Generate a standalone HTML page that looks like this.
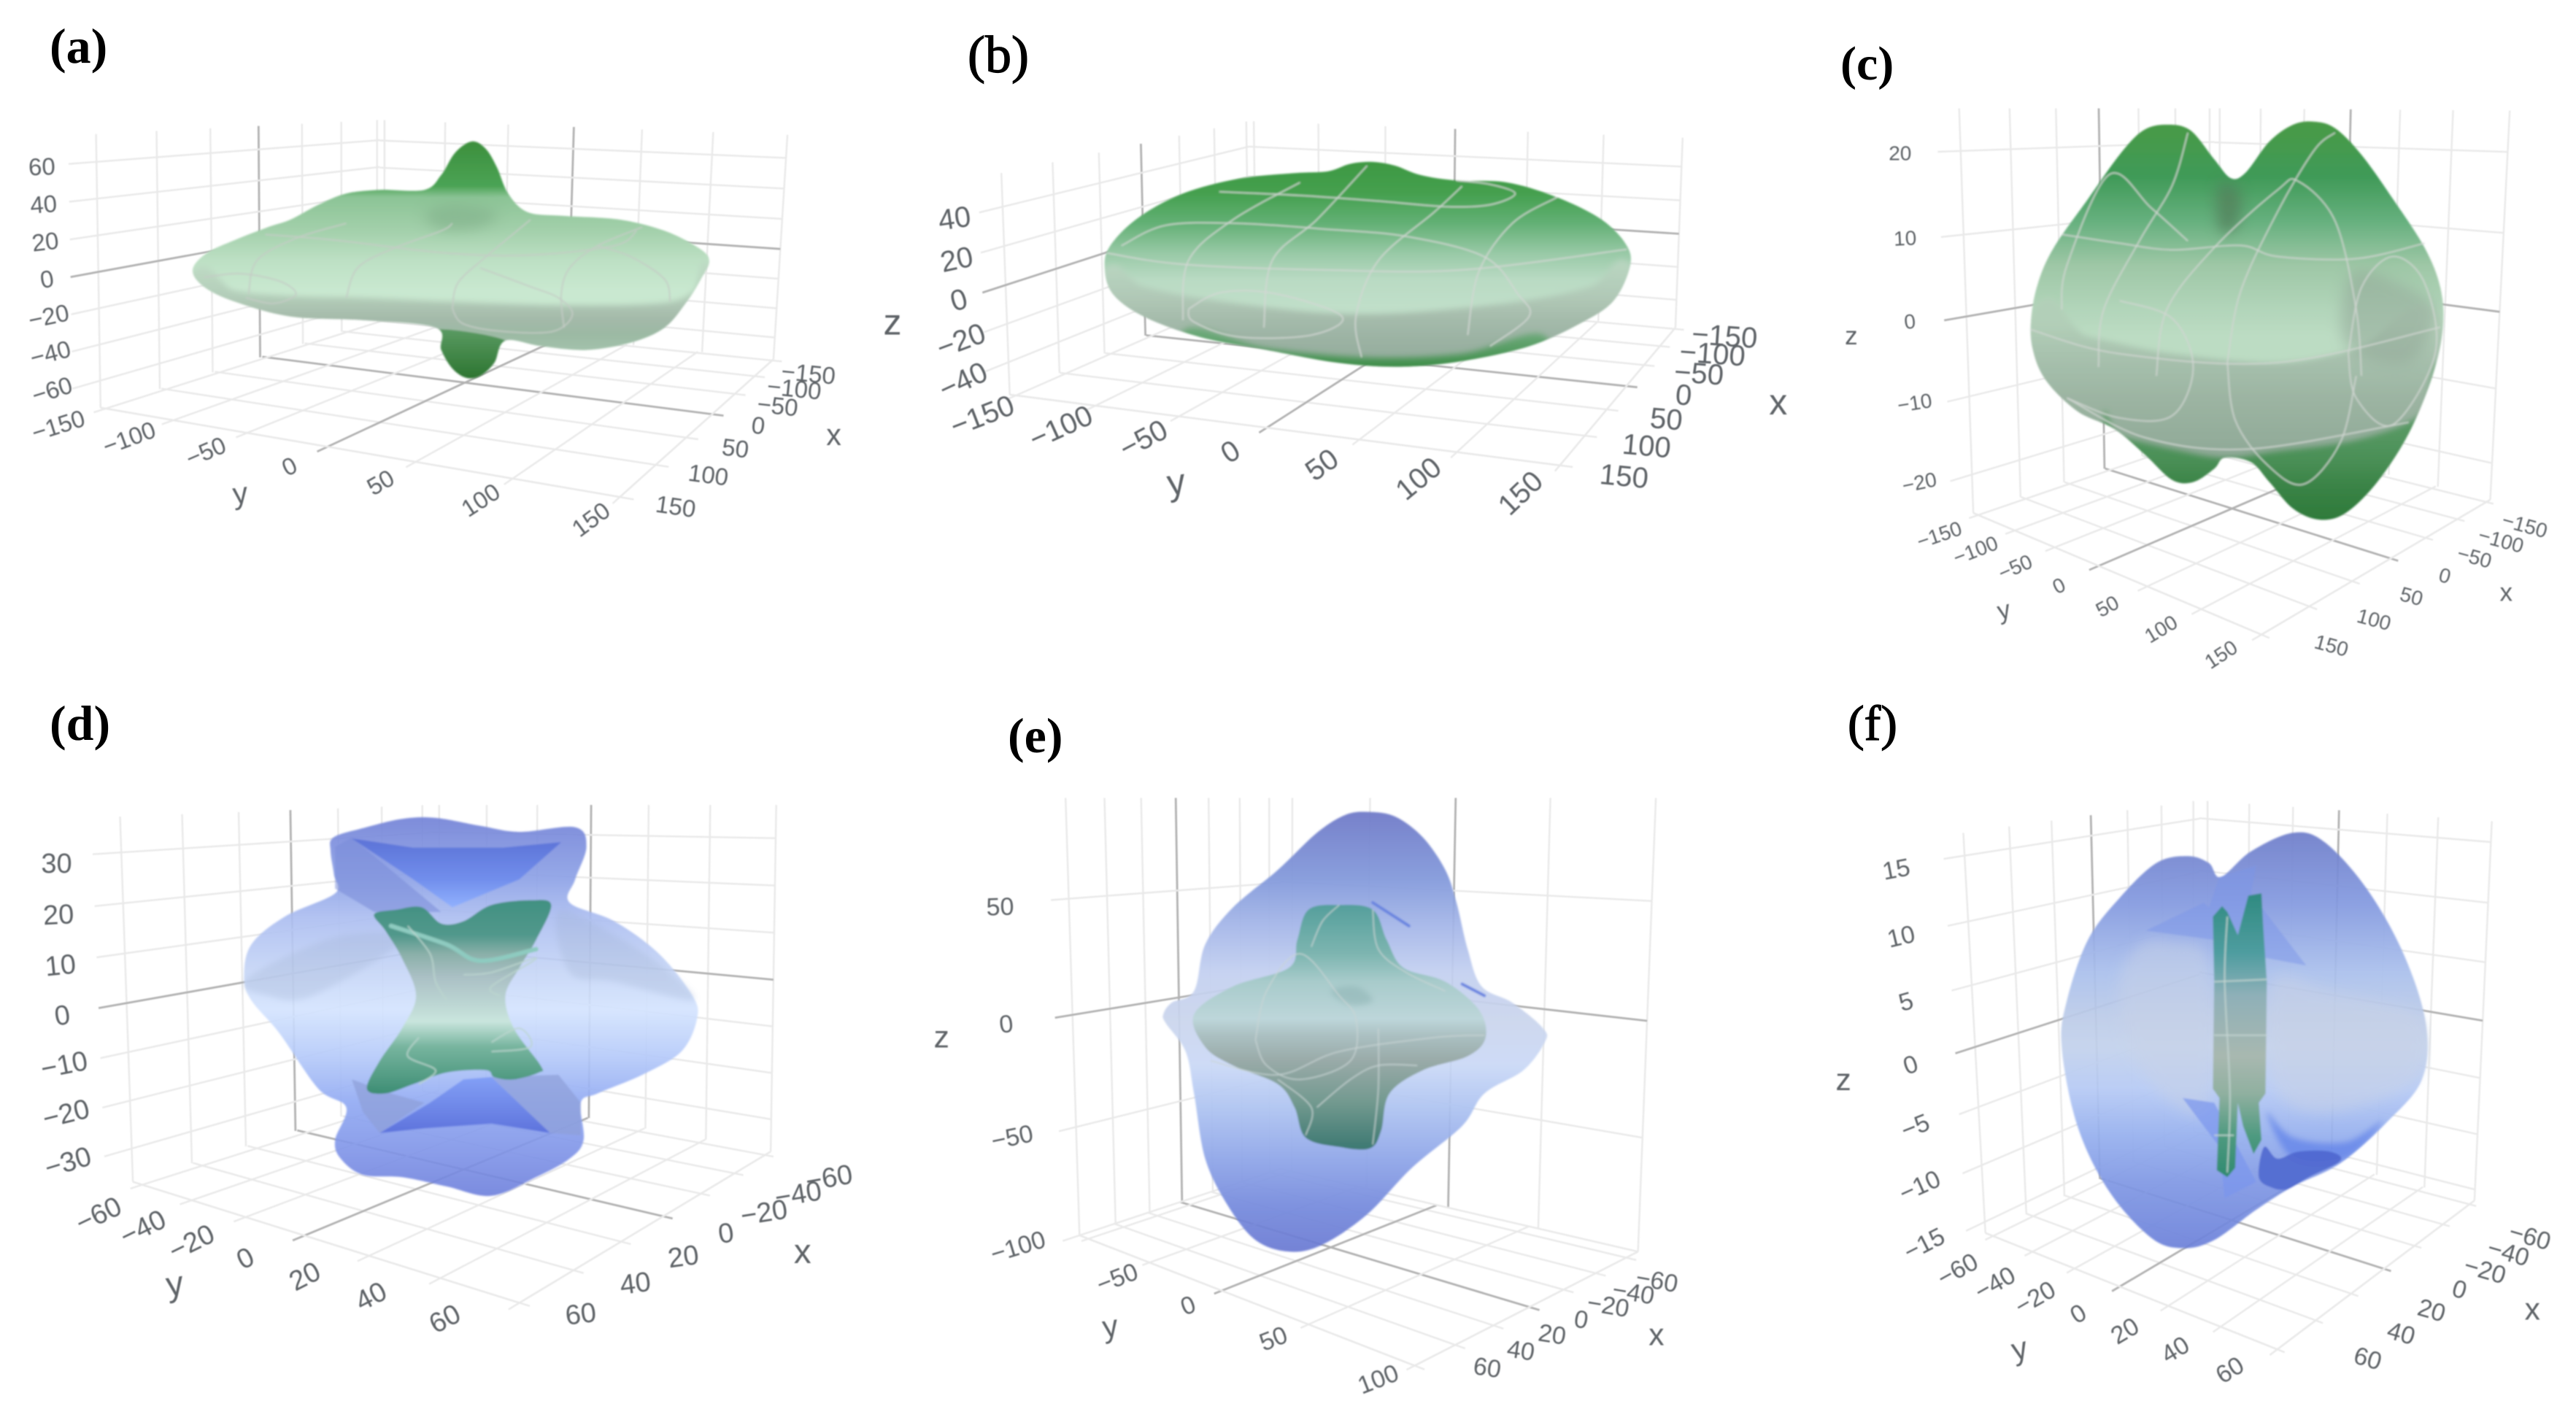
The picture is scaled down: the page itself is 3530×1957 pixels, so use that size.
<!DOCTYPE html>
<html lang="en">
<head>
<meta charset="utf-8">
<title>Six 3D surface panels</title>
<style>
html,body{margin:0;padding:0;background:#fff;}
svg{display:block;}
.panel-title{font-family:"Liberation Serif",serif;fill:#000;}
.tick{font-family:"Liberation Sans",sans-serif;fill:#5f6468;}
</style>
</head>
<body>
<svg id="figure" xmlns="http://www.w3.org/2000/svg" width="3530" height="1957" viewBox="0 0 3530 1957">
<defs>
<filter id="b1" x="-5%" y="-5%" width="110%" height="110%"><feGaussianBlur stdDeviation="1.4"/></filter>
<filter id="b2" x="-5%" y="-5%" width="110%" height="110%"><feGaussianBlur stdDeviation="0.9"/></filter>
<filter id="b4" x="-30%" y="-30%" width="160%" height="160%"><feGaussianBlur stdDeviation="4"/></filter>
<filter id="b8" x="-50%" y="-50%" width="200%" height="200%"><feGaussianBlur stdDeviation="9"/></filter>
</defs>
<rect width="3530" height="1957" fill="#ffffff"/>
<text class="panel-title" x="68" y="86" font-size="68" font-weight="700">(a)</text>
<text class="panel-title" x="1326" y="99" font-size="72" stroke="#000" stroke-width="1.3">(b)</text>
<text class="panel-title" x="2522" y="109" font-size="66" font-weight="700">(c)</text>
<text class="panel-title" x="68" y="1014" font-size="68" font-weight="700">(d)</text>
<text class="panel-title" x="1381" y="1031" font-size="68" font-weight="700">(e)</text>
<text class="panel-title" x="2532" y="1014" font-size="68" stroke="#000" stroke-width="1.3">(f)</text>
<g id="g-a"></g>
<g id="g-b"></g>
<g id="g-c"></g>
<g id="g-d"></g>
<g id="g-e"></g>
<g id="g-f"></g>
</svg>
<script>
// ---- axis tick values ----
const ticks150 = [-150,-100,-50,0,50,100,150];
const ticks60 = [-60,-40,-20,0,20,40,60];
const ticks100 = [-100,-50,0,50,100];
const zTicksA = [-60,-40,-20,0,20,40,60];
const zTicksB = [-40,-20,0,20,40];
const zTicksC = [-20,-10,0,10,20];
const zTicksD = [-30,-20,-10,0,10,20,30];
const zTicksE = [-100,-50,0,50];
const zTicksF = [-15,-10,-5,0,5,10,15];

// ---- surface silhouettes as [horizontal extent, z] value pairs ----
const outlineA = [[-91,3],[-86,12],[-76,19],[-64,26],[-56,30],[-46,38],[-36,44],[-24,46],[-8,46],[-2,54],[3,66],[9,72],[14,68],[18,58],[22,44],[29,34],[42,32],[62,30],[78,24],[90,15],[94,8],[91,-2],[86,-14],[78,-28],[66,-36],[50,-40],[34,-38],[21,-35],[17,-47],[12,-54],[7,-55],[2,-50],[-2,-40],[-4,-28],[-30,-24],[-56,-22],[-76,-14],[-87,-6]];
const lowerA = [[-92,1],[-76,-8],[-56,-11],[-30,-12],[0,-14],[40,-16],[76,-15],[88,-9],[95,4],[120,-80],[-120,-80]];
const spikeLowerA = [[-4,-29],[21,-35],[17,-47],[12,-54],[7,-55],[2,-50],[-2,-40]];
const shadeA = [[-8,33],[2,38],[18,34],[12,26],[-2,25]];
const wiresA = [
 [[-65,22],[-40,19],[0,12],[30,11],[60,16],[68,24]],
 [[-87,-1],[-74,1],[-60,-3],[-54,-10],[-62,-15],[-72,-12]],
 [[-71,-10],[-68,8],[-54,20],[-36,28]],
 [[-36,-12],[-32,4],[-20,14],[-2,24],[2,28]],
 [[2,-18],[4,-4],[14,10],[30,30]],
 [[12,4],[30,-6],[40,-12],[45,-21],[38,-30],[20,-30],[6,-26],[2,-18]],
 [[42,-28],[41,-10],[44,4],[54,16],[70,26]],
 [[54,16],[66,10],[78,-2],[80,-14]]
];

const outlineB = [[-94,-4],[-92,8],[-82,23],[-66,36],[-46,44],[-26,47],[-14,48],[-6,52],[2,53],[10,51],[19,46],[32,43],[50,42],[68,34],[84,22],[93,8],[94,-4],[88,-22],[76,-34],[58,-46],[34,-54],[12,-57],[-10,-55],[-36,-48],[-60,-41],[-80,-30],[-91,-18]];
const lowerB = [[-95,-6],[-80,-14],[-56,-21],[-16,-28],[14,-28],[54,-22],[80,-14],[95,-3],[120,-80],[-120,-80]];
const rimB = [[-66,-38],[-36,-47],[0,-52],[34,-50],[64,-41],[60,-90],[-60,-90]];
const wiresB = [
 [[-53,37],[-24,35],[4,32],[28,29],[44,30],[53,36],[44,41],[32,43]],
 [[-88,8],[-72,19],[-46,20],[-16,17],[14,13],[42,2],[54,-18],[58,-30],[44,-46]],
 [[-93,4],[-66,-2],[-16,-5],[34,-5],[93,6]],
 [[-64,-26],[-52,-17],[-32,-18],[-9,-30],[-20,-40],[-46,-41],[-62,-33],[-64,-26]],
 [[-66,-32],[-64,0],[-48,22],[-24,42]],
 [[-37,-36],[-34,0],[-18,22],[0,51]],
 [[-2,-52],[-4,-30],[4,0],[24,26],[34,40]],
 [[36,-40],[40,-6],[52,20],[68,34]]
];

const outlineC = [[-19.4,0],[-18.75,4],[-17.25,8],[-14,13.5],[-11,18.5],[-8.75,21.25],[-6.5,21.9],[-4.25,21.25],[-2,18],[-0.4,15.85],[1,16.5],[3.25,20],[5.5,21.9],[7.5,22.25],[9.5,21.5],[12,18.5],[15,13.5],[18,8],[19.5,3.5],[19.75,-1],[18.75,-6.5],[16.5,-13],[13.5,-18.5],[10.5,-22],[8,-22.75],[5.5,-21.5],[3.25,-18.5],[1.5,-16.25],[-1,-15.75],[-2,-17],[-4,-18.5],[-6,-18.25],[-8.5,-15.5],[-11.5,-12.5],[-15,-10.5],[-18,-7],[-19.25,-3.5]];
const lowerC = [[-19.75,-0.25],[-14,-2],[-6,-4],[4,-5],[11.5,-3.5],[20,-0.75],[30,-40],[-30,-40]];
const lobesC = [[-12.5,-12.2],[-11,-13.25],[-6,-14.75],[-1,-15.75],[4,-15],[11.5,-13.75],[17.5,-11],[20.5,-6.5],[30,-40],[-11,-40]];
const shadeSideC = [[11,5],[15.5,4],[19,1],[16.5,-5],[10.5,-3]];
const shadeNotchC = [[-1.6,15],[0.4,14.5],[0.25,10.5],[-1.5,10]];
const wiresC = [
 [[-16.5,9.5],[-11,8.5],[-6,7.75],[0.5,8.25],[4,7],[11.5,6.75],[18,8.5]],
 [[-13,-5.5],[-12.5,1],[-9,9],[-6,15],[-4.5,21]],
 [[-16.5,1],[-16,6],[-12,16.25],[-8,12.5],[-4.5,8.75]],
 [[-7.5,-6.5],[-6.5,1],[-2,8],[4,14.5],[6,15.5],[9.5,11],[11.5,1],[12,-6.5]],
 [[-0.75,-5],[0.5,3],[4,12],[7.5,19],[9.5,21]],
 [[10.75,-4],[12,3.5],[15,7],[18,4],[19,-4],[15,-12],[11.5,-9],[10.75,-4]],
 [[-19.5,-1.25],[-11,-4],[4,-5],[19.5,-1]],
 [[-11,2],[-6,0],[-4,-5.5],[-6,-11],[-11,-11.25],[-16,-9]],
 [[-16,-9],[-8.5,-13.5],[1.5,-14.75],[16.5,-11.75]],
 [[-0.75,-5],[0,-11.5],[3,-16.5],[6.5,-18.75],[10,-14],[11.5,-6.5]]
];

const outerD = [[-40.3,8],[-39,15],[-33,21],[-24,26],[-24.2,30],[-24.8,35],[-24.3,38],[-19,40],[-12,42],[-6,42.2],[2,40.5],[9,39.2],[19,40.2],[21,36],[19,29],[18,24],[26,20],[34,13],[40,4],[40.8,-1],[38,-8],[31,-13],[23,-17],[20,-19],[20.5,-27],[18,-31],[12,-35],[4,-39],[-4,-37],[-12,-35],[-19,-34.5],[-23,-31],[-24,-27],[-22,-20],[-27,-16],[-34,-4],[-39,3]];
const sideRightD = [[16,22],[26,17],[36,9],[40,3],[26,7],[18,9]];
const sideLeftD = [[-40,7.5],[-24,16.5],[-12,16],[-28,4],[-36,4]];
const capTopD = [[-21,37.8],[-10,35.8],[6,35.8],[16.5,37],[9,29],[-3,23],[-10,29]];
const capTopSideD = [[-24,36],[-21,38],[-10,27],[-5,22],[-17,22],[-24,27]];
const capBottomD = [[-16,-25.5],[-8,-24.5],[4,-23.5],[14.5,-25.5],[4,-13.5],[-1,-14],[-7,-19]];
const capBottomLeftD = [[-21,-14],[-14,-17],[-8,-19],[-16,-25.5],[-19,-21]];
const capBottomRightD = [[4,-13.5],[16,-13],[20,-19],[20,-26],[14.5,-25.5]];
const innerD = [[-17,21.5],[-13,22.5],[-8.5,23],[-5,19.5],[-1,20],[4,23.5],[11,24.5],[14.7,23.5],[12,16],[9,10],[6.5,4],[8,-3],[12.8,-11],[12.5,-12.5],[8,-14],[4.5,-13.5],[3,-12],[-4,-12.5],[-10,-15],[-15,-17],[-18.3,-16],[-16,-10],[-12,-3],[-9.5,4],[-12,12],[-15,18]];
const bandD = [[-14,19],[-4,15],[2,11.5],[12,14]];
const wiresD = [
 [[-11,19],[-7,13],[-6,7],[-4,3]],
 [[-1,8.5],[4,9],[12,12],[4,6],[5.5,4]],
 [[-9,-5],[-11,-9],[-6,-12],[-9,-15]],
 [[4,-6],[9,-3],[11,-7],[4,-8]]
];

const outerE = [[-65,6],[-62,11],[-54,16],[-50,36],[-40,52],[-24,68],[-10,84],[0,91.6],[8,93],[18,91],[28,82],[36,68],[40,54],[44,34],[49,18],[60,11],[71,0],[71.6,-6],[64,-18],[50,-28],[42,-42],[24,-60],[8,-80],[-8,-93],[-20,-96],[-32,-91],[-42,-76],[-50,-56],[-54,-28],[-57,-10],[-64,2]];
const innerE = [[-54,6],[-40,18],[-20,26],[-17,38],[-13,51],[-2,53],[10,51],[15,38],[21,26],[36,20],[48,8],[50.4,-4],[44,-12],[28,-18],[16,-28],[13,-44],[9,-51.6],[-2,-51],[-14,-47],[-18,-34],[-24,-24],[-40,-16],[-50,-8]];
const dentE = [[-5,16],[4,18],[10,12],[2,10]];
const sliverE1 = [[10,54],[23,44]];
const sliverE2 = [[42,19],[50,14]];
const wiresE = [
 [[-32,-5],[-28,16],[-16,32],[-2,14],[4,4],[2,-14],[-16,-22],[-28,-16],[-32,-5]],
 [[-12,35],[-8,46],[-2,53]],
 [[10,51],[12,34],[22,24],[36,16]],
 [[-48,-14],[-24,-20],[-2,-10],[32,-4],[50,-3]],
 [[-14,-46],[-12,-34],[-24,-22]],
 [[-10,-34],[2,-22],[12,-16],[26,-16]],
 [[10,-50],[12,-26],[12,0]]
];

const outerF = [[-13.6,-0.4],[-13.2,3.6],[-11.6,8.8],[-9.2,12.4],[-6.4,15.4],[-4,16],[-2.4,15.4],[-1.5,14.2],[0.8,16.4],[4,18],[6.4,17.2],[9.6,13.2],[12.4,7.6],[14.1,1.6],[13.8,-3.2],[11.2,-6.8],[7.6,-10.4],[4,-12.4],[1.2,-14.4],[-2,-17],[-4.4,-17.7],[-6.8,-16.8],[-10,-12.8],[-12.4,-7.2]];
const bodyLeftF = [[-9.2,5.2],[-7.6,8.4],[-5.2,8.6],[-2.4,6.8],[-2.4,-5.2],[-5.2,-5.2],[-8.4,-0.4]];
const bodyRightF = [[2.4,5.2],[6.8,4.4],[13.6,2],[13.2,-3.2],[6.8,-6],[2.8,-4]];
const starTopF = [[-2.4,11.6],[-1.6,14.2],[1.2,15.2],[0.8,12.8],[5,6.6],[1.2,7.4],[-2,8.8],[-7.2,9.6],[-2.8,12]];
const bottomDarkF = [[1.4,-11.6],[2.4,-12.5],[3.6,-12.6],[5.2,-11.6],[7.6,-10.2],[6.8,-9.4],[4.4,-9.4],[2.8,-10],[1.8,-9]];
const bottomWashF = [[2,-6],[4,-8.2],[8,-8.6],[10.8,-6.8],[8,-10],[4,-10]];
const bottomMidF = [[-4.4,-4.8],[-2,-5.2],[1.2,-12],[-1.2,-13.4],[-1.6,-9]];
const innerF = [[-2.1,10.8],[-1.4,11.7],[-1,11.2],[-0.2,9.2],[0.6,12.6],[1.6,12.8],[1.7,10.4],[2,5.2],[1.9,-4.4],[1.4,-5.2],[1.6,-8.4],[1,-9.6],[0.2,-7.2],[-0.2,-5.2],[-0.4,-10.8],[-1,-11.6],[-1.8,-11],[-1.6,-4.8],[-2.1,-4],[-2,5.2]];
const wiresF = [
 [[-1,10.8],[-1.2,5.2],[-0.8,-4.4],[-1,-11.2]],
 [[-2,5.2],[2,5.4]],
 [[-2,0.6],[2,0.6]],
 [[-2,-8],[-0.5,-8]]
];

// ---- panel layout and styling ----
const panels = [
 {id:'a',ox:0,oy:0,sx:1.3067,sy:1.96,o:[800,740],f:5,font:33,wireW:2,
  xr:[-154,150],yr:[-154,150],zr:[-75,75],xt:ticks150,yt:ticks150,zt:zTicksA,hideY:[],
  Lb:[180,1095],F:[1110,1335],Rb:[1385,965],Bb:[680,859],Lt:[172,360],Bt:[680,322],Rt:[1410,362],
  zl:[[-86,25,-25],[-98,13,-3]],yl:[[-85,45,-25],[-52,60,-48]],xl:[[65,35,8],[100,25,12]],
  titles:[['y',430,1325,-10],['x',1493,1168,0]],
  outline:outlineA,outerGrad:[[380,'#3c8f3c'],[500,'#4ba355'],[530,'#8cc496'],[620,'#a3d0ab'],[700,'#bde0c4'],[780,'#c9e8d0'],[1020,'#c9e8d0']],outerOp:1,
  shapes:[
   {name:'surface-a-lower-body',data:lowerA,clip:1,blur:'b4',grad:[[730,'#bcd8c2'],[800,'#b2ccb8'],[860,'#a3b8a8'],[900,'#9bb9a3'],[940,'#a3c2ab']]},
   {name:'surface-a-lower-spike',data:spikeLowerA,clip:1,grad:[[885,'#5a9a62'],[1017,'#2c7530']]},
   {name:'surface-a-peak-shadow',data:shadeA,clip:1,blur:'b8',fill:'#7fae88',op:.6}
  ],wires:wiresA,wire:'#c4cbc6'},
 {id:'b',ox:1200,oy:0,sx:1.3067,sy:1.96,o:[880,700],f:5,font:40,wireW:2,
  xr:[-154,150],yr:[-154,150],zr:[-57,57],xt:ticks150,yt:ticks150,zt:zTicksB,hideY:[],
  Lb:[240,1060],F:[1225,1250],Rb:[1432,880],Bb:[672,778],Lt:[225,465],Bt:[668,325],Rt:[1445,370],
  zl:[[-81,50,-35],[-86,32,-12]],yl:[[-60,55,-30],[-70,75,-55]],xl:[[90,20,6],[115,30,8]],
  titles:[['z',30,865,0],['y',538,1295,-12],['x',1616,1080,0]],
  outline:outlineB,outerGrad:[[435,'#3e9842'],[520,'#45a04f'],[600,'#63b075'],[680,'#98c9a6'],[750,'#b9dac3'],[820,'#c0dfc9'],[1000,'#c0dfc9']],outerOp:1,
  shapes:[
   {name:'surface-b-lower-body',data:lowerB,clip:1,blur:'b4',grad:[[720,'#b8d4bf'],[800,'#b0c8b6'],[860,'#a4baaa'],[920,'#9ab1a2'],[985,'#93ab9b']]},
   {name:'surface-b-bottom-rim',data:rimB,clip:1,blur:'b4',grad:[[900,'#6aa877'],[985,'#3f8e4a']]}
  ],wires:wiresB,wire:'#d2d7d3'},
 {id:'c',ox:2400,oy:0,sx:1.3876,sy:1.65,o:[920,720],f:20,font:28,wireW:2,
  xr:[-157,150],yr:[-157,150],zr:[-25,25],xt:ticks150,yt:ticks150,zt:zTicksC,hideY:[],
  Lb:[422,1160],F:[970,1435],Rb:[1405,1130],Bb:[880,976],Lt:[395,245],Bt:[880,245],Rt:[1442,250],
  zl:[[-100,18,-14],[-115,5,0]],yl:[[-74,45,-22],[-77,45,-38]],xl:[[73,53,18],[133,25,18]],
  titles:[['z',190,760,0],['y',480,1380,-15],['x',1435,1340,0]],
  outline:outlineC,outerGrad:[[275,'#489a45'],[400,'#409a58'],[500,'#66b07e'],[600,'#9ec7a6'],[700,'#b2d5ba'],[760,'#bcdcc3'],[1180,'#bcdcc3']],outerOp:1,
  shapes:[
   {name:'surface-c-lower-body',data:lowerC,clip:1,blur:'b4',grad:[[730,'#b2cfb8'],[800,'#a8c2ae'],[900,'#9cb4a2'],[1040,'#8ea896']]},
   {name:'surface-c-lower-lobes',data:lobesC,clip:1,blur:'b4',grad:[[940,'#5c9c68'],[1040,'#4a8f56'],[1100,'#3a8346'],[1175,'#2e7a3a']]},
   {name:'surface-c-side-shade',data:shadeSideC,clip:1,blur:'b8',fill:'#93a898',op:.55},
   {name:'surface-c-notch-shade',data:shadeNotchC,clip:1,blur:'b8',fill:'#527f5c',op:.75}
  ],wires:wiresC,wire:'#d0d6d1'},
 {id:'d',ox:0,oy:950,sx:1.3067,sy:1.568,o:[840,690],f:10,font:38,wireW:2,
  xr:[-64,60],yr:[-64,60],zr:[-37,37],xt:ticks60,yt:ticks60,zt:zTicksD,hideY:[],
  Lb:[238,1050],F:[930,1310],Rb:[1380,985],Bb:[770,850],Lt:[215,265],Bt:[770,240],Rt:[1390,240],
  zl:[[-114,30,-20],[-116,25,0]],yl:[[-78,65,-30],[-133,35,-32]],xl:[[115,50,-12],[110,25,-8]],
  titles:[['y',313,1270,-10],['x',1437,1200,0]],
  outline:outerD,outerGrad:[[268,'#7080d6'],[400,'#8ba0e6'],[480,'#aabcf0'],[600,'#c5d5f6'],[680,'#d3e3fe'],[780,'#b4c9f9'],[880,'#8fa8f2'],[1000,'#7c90e6'],[1080,'#6d7fdb']],outerOp:.9,
  shapes:[
   {name:'surface-d-right-lobe-shade',data:sideRightD,blur:'b4',fill:'#9fb0d0',op:.28},
   {name:'surface-d-left-lobe-shade',data:sideLeftD,blur:'b4',fill:'#9fb0d0',op:.28},
   {name:'surface-d-top-cap-side',data:capTopSideD,straight:1,fill:'#7a8cd8',op:.55},
   {name:'surface-d-top-cap',data:capTopD,straight:1,grad:[[320,'#5a72d8'],[400,'#6e8cec'],[460,'#8fb0ff']],op:.92},
   {name:'surface-d-bottom-cap-left',data:capBottomLeftD,straight:1,fill:'#8ea0d8',op:.7},
   {name:'surface-d-bottom-cap-right',data:capBottomRightD,straight:1,fill:'#8ea0d8',op:.7},
   {name:'surface-d-bottom-cap',data:capBottomD,straight:1,grad:[[830,'#7f9cf5'],[900,'#6a82e5'],[945,'#5a70dc']],op:.95},
   {name:'inner-surface-d',data:innerD,grad:[[445,'#3e8f7e'],[520,'#4d9688'],[560,'#88aea6'],[610,'#a9bfc3'],[670,'#bcd6d2'],[705,'#c9e5dc'],[760,'#74b39b'],[860,'#3a8c70']],op:.97},
   {name:'inner-surface-d-band',data:bandD,open:1,stroke:'#8ecbc0',sw:6}
  ],wires:wiresD,wire:'#bcd6cf'},
 {id:'e',ox:1200,oy:950,sx:1.3067,sy:1.568,o:[840,720],f:5,font:34,wireW:1.6,
  xr:[-68,60],yr:[-108,100],zr:[-100,92],xt:ticks60,yt:ticks100,zt:zTicksE,hideY:[-100],
  Lb:[365,1165],F:[965,1445],Rb:[1365,1200],Bb:[725,1022],Lt:[340,225],Bt:[725,225],Rt:[1397,225],
  zl:[[-110,25,-20],[-123,18,-2]],yl:[[-55,35,-25],[-65,30,-25]],xl:[[55,50,12],[130,5,10]],
  titles:[['z',118,740,0],['y',420,1362,-10],['x',1398,1380,0]],
  outline:outerE,outerGrad:[[255,'#6b76c6'],[400,'#8097da'],[500,'#a3b5e8'],[600,'#c2cff0'],[700,'#c9d4ec'],[800,'#c9d8f6'],[900,'#aac0f0'],[1000,'#8da4e8'],[1100,'#7489dc'],[1200,'#6878d2']],outerOp:.92,
  shapes:[
   {name:'blue-sliver-upper',data:sliverE1,open:1,stroke:'#6a85e0',sw:4},
   {name:'blue-sliver-right',data:sliverE2,open:1,stroke:'#6a85e0',sw:4},
   {name:'inner-surface-e',data:innerE,grad:[[455,'#559f9c'],[560,'#7db5b0'],[620,'#a8cbcb'],[700,'#bdd6da'],[735,'#abc0c2'],[790,'#99aaa8'],[880,'#72998f'],[975,'#3f7a73']]},
   {name:'inner-surface-e-dent',data:dentE,blur:'b4',fill:'#90b5b5',op:.6}
  ],wires:wiresE,wire:'#c9d5d5'},
 {id:'f',ox:2400,oy:950,sx:1.3876,sy:1.568,o:[930,750],f:25,font:34,wireW:2,
  xr:[-64,60],yr:[-64,60],zr:[-16,16.7],xt:ticks60,yt:ticks60,zt:zTicksF,hideY:[],
  Lb:[445,1160],F:[1000,1410],Rb:[1375,1090],Bb:[852,936],Lt:[403,300],Bt:[852,230],Rt:[1408,275],
  zl:[[-115,48,-30],[-130,30,-12]],yl:[[-67,73,-32],[-90,45,-35]],xl:[[115,70,18],[172,20,18]],
  titles:[['z',175,832,0],['y',510,1410,-15],['x',1485,1325,0]],
  outline:outerF,outerGrad:[[300,'#6d7cc9'],[450,'#8298df'],[600,'#a9bfec'],[700,'#bccbe8'],[760,'#c2d1ec'],[850,'#b5c9f4'],[950,'#95afee'],[1050,'#7f97e4'],[1190,'#6b80d9']],outerOp:.92,
  shapes:[
   {name:'surface-f-left-body',data:bodyLeftF,blur:'b8',fill:'#c8d2e6',op:.5},
   {name:'surface-f-right-body',data:bodyRightF,blur:'b8',fill:'#c8d2e6',op:.55},
   {name:'surface-f-top-star',data:starTopF,straight:1,fill:'#7c95e8',op:.5},
   {name:'surface-f-bottom-wash',data:bottomWashF,clip:1,blur:'b4',fill:'#5f80e8',op:.7},
   {name:'surface-f-bottom-mid',data:bottomMidF,straight:1,fill:'#7a95ec',op:.7},
   {name:'surface-f-bottom-dark',data:bottomDarkF,clip:1,fill:'#4f68cf',op:.9},
   {name:'inner-surface-f',data:innerF,straight:1,grad:[[430,'#2f8a80'],[560,'#4f9da0'],[650,'#8fb0b8'],[780,'#a8b8b0'],[860,'#90b0a0'],[950,'#4f9a80'],[1040,'#2f8a70']]}
  ],wires:wiresF,wire:'#c6d6d2'}
];

const NS = 'http://www.w3.org/2000/svg';
const defs = document.querySelector('#figure defs');
function mk(tag, attrs, parent){
  const el = document.createElementNS(NS, tag);
  for (const k in attrs) el.setAttribute(k, attrs[k]);
  if (parent) parent.appendChild(el);
  return el;
}
function quad(p0,p1,p2,p3){
  const dx1=p1[0]-p2[0],dx2=p3[0]-p2[0],sx=p0[0]-p1[0]+p2[0]-p3[0];
  const dy1=p1[1]-p2[1],dy2=p3[1]-p2[1],sy=p0[1]-p1[1]+p2[1]-p3[1];
  const den=dx1*dy2-dx2*dy1;
  const g=(sx*dy2-dx2*sy)/den,h=(dx1*sy-sx*dy1)/den;
  const a=p1[0]-p0[0]+g*p1[0],b=p3[0]-p0[0]+h*p3[0],c=p0[0];
  const d=p1[1]-p0[1]+g*p1[1],e=p3[1]-p0[1]+h*p3[1],f=p0[1];
  return (u,v)=>{const w=g*u+h*v+1;return [(a*u+b*v+c)/w,(d*u+e*v+f)/w];};
}
function smoothPath(pts, closed){
  const n=pts.length;
  let d='M'+pts[0][0].toFixed(1)+' '+pts[0][1].toFixed(1);
  const at=i=>closed?pts[(i+n)%n]:pts[Math.max(0,Math.min(n-1,i))];
  const last=closed?n:n-1;
  for(let i=0;i<last;i++){
    const p0=at(i-1),p1=at(i),p2=at(i+1),p3=at(i+2);
    const c1=[p1[0]+(p2[0]-p0[0])/6,p1[1]+(p2[1]-p0[1])/6];
    const c2=[p2[0]-(p3[0]-p1[0])/6,p2[1]-(p3[1]-p1[1])/6];
    d+='C'+c1[0].toFixed(1)+' '+c1[1].toFixed(1)+' '+c2[0].toFixed(1)+' '+c2[1].toFixed(1)+' '+p2[0].toFixed(1)+' '+p2[1].toFixed(1);
  }
  return d+(closed?'Z':'');
}
function straightPath(pts){
  return 'M'+pts.map(p=>p[0].toFixed(1)+' '+p[1].toFixed(1)).join('L')+'Z';
}
function fmt(v){ return v<0 ? '\u2212'+Math.abs(v) : String(v); }

panels.forEach(p=>{
  const root=document.getElementById('g-'+p.id);
  const px=x=>p.ox+x/p.sx, py=y=>p.oy+y/p.sy;
  const P=c=>[px(c[0]),py(c[1])];
  const hScale=h=>px(p.o[0]+h*p.f), zScale=z=>py(p.o[1]-z*p.f);
  const toPts=arr=>arr.map(a=>[hScale(a[0]),zScale(a[1])]);
  const realAngle=a=>Math.atan(Math.tan(a*Math.PI/180)*p.sx/p.sy)*180/Math.PI;

  const floor=quad(P(p.Lb),P(p.F),P(p.Rb),P(p.Bb));
  const left=quad(P(p.Lb),P(p.Bb),P(p.Bt),P(p.Lt));
  const right=quad(P(p.Bb),P(p.Rb),P(p.Rt),P(p.Bt));
  const xU=x=>(p.xr[1]-x)/(p.xr[1]-p.xr[0]);
  const yU=y=>(y-p.yr[0])/(p.yr[1]-p.yr[0]);
  const zV=z=>(z-p.zr[0])/(p.zr[1]-p.zr[0]);

  // grid
  const grid=mk('g',{filter:'url(#b2)'},root);
  
  
  const gridLine=(a,b,zero,name)=>{
    const ln=mk('line',{x1:a[0].toFixed(1),y1:a[1].toFixed(1),x2:b[0].toFixed(1),y2:b[1].toFixed(1),stroke:zero?'#b2b2b2':'#e9e9e9','stroke-width':zero?2.8:2.4},grid);
    
    
  };
  p.xt.forEach(x=>{
    gridLine(left(xU(x),0),left(xU(x),1),x===0,'x-wall-gridline');
    gridLine(floor(0,xU(x)),floor(1.02,xU(x)),x===0,'x-floor-gridline');
  });
  p.yt.forEach(y=>{
    gridLine(right(yU(y),0),right(yU(y),1),y===0,'y-wall-gridline');
    gridLine(floor(yU(y),-0.03),floor(yU(y),1),y===0,'y-floor-gridline');
  });
  p.zt.forEach(z=>{
    gridLine(left(-0.07,zV(z)),left(1,zV(z)),z===0,'z-left-wall-gridline');
    gridLine(right(0,zV(z)),right(1,zV(z)),z===0,'z-right-wall-gridline');
  });
  gridLine(P(p.Lb),P(p.F),false,'floor-edge-front-left');
  gridLine(P(p.F),P(p.Rb),false,'floor-edge-front-right');

  // tick labels
  const labels=mk('g',{filter:'url(#b2)'},root);
  
  
  const place=(text,pos,off0,off1,t,name)=>{
    const dx=off0[0]+(off1[0]-off0[0])*t, dy=off0[1]+(off1[1]-off0[1])*t, rot=off0[2]+(off1[2]-off0[2])*t;
    const x=pos[0]+dx/p.sx, y=pos[1]+dy/p.sy;
    const tx=mk('text',{class:'tick',x:x.toFixed(1),y:y.toFixed(1),'font-size':p.font,'text-anchor':'middle','dominant-baseline':'central',transform:'rotate('+realAngle(rot).toFixed(1)+' '+x.toFixed(1)+' '+y.toFixed(1)+')'},labels);
    
    
    tx.textContent=text;
  };
  p.zt.forEach((z,i)=>place(fmt(z),left(0,zV(z)),p.zl[0],p.zl[1],i/(p.zt.length-1),'z-tick-label'));
  p.yt.forEach((y,i)=>{ if(p.hideY.indexOf(y)<0) place(fmt(y),floor(yU(y),0),p.yl[0],p.yl[1],i/(p.yt.length-1),'y-tick-label'); });
  p.xt.forEach((x,i)=>place(fmt(x),floor(1,xU(x)),p.xl[0],p.xl[1],i/(p.xt.length-1),'x-tick-label'));
  p.titles.forEach(t=>{
    const x=px(t[1]),y=py(t[2]);
    const tx=mk('text',{class:'tick',x:x.toFixed(1),y:y.toFixed(1),'font-size':p.font*1.25,'text-anchor':'middle','dominant-baseline':'central',transform:'rotate('+realAngle(t[3]).toFixed(1)+' '+x.toFixed(1)+' '+y.toFixed(1)+')'},labels);
    
    
    tx.textContent=t[0];
  });

  // surface
  const grad=(stops,id)=>{
    const first=stops[0][0],last=stops[stops.length-1][0];
    const g=mk('linearGradient',{id:id,gradientUnits:'userSpaceOnUse',x1:0,x2:0,y1:py(first).toFixed(1),y2:py(last).toFixed(1)},defs);
    stops.forEach(s=>mk('stop',{offset:((s[0]-first)/(last-first)).toFixed(4),'stop-color':s[1]},g));
    return 'url(#'+id+')';
  };
  const surf=mk('g',{filter:'url(#b1)'},root);
  
  
  const outlineD=smoothPath(toPts(p.outline),true);
  const clip=mk('clipPath',{id:'clip-'+p.id},defs);
  mk('path',{d:outlineD},clip);
  const outer=mk('path',{d:outlineD,fill:grad(p.outerGrad,'grad-'+p.id+'-outer'),'fill-opacity':p.outerOp},surf);
  
  

  p.shapes.forEach((s,i)=>{
    const pts=toPts(s.data);
    const host=s.clip?mk('g',{'clip-path':'url(#clip-'+p.id+')'},surf):surf;
    const d=s.straight?straightPath(pts):smoothPath(pts,!s.open);
    const attrs={d:d};
    if(s.open){attrs.fill='none';attrs.stroke=s.stroke;attrs['stroke-width']=s.sw;attrs['stroke-linecap']='round';}
    else{attrs.fill=s.grad?grad(s.grad,'grad-'+p.id+'-'+i):s.fill;}
    if(s.op!==undefined)attrs.opacity=s.op;
    if(s.blur)attrs.filter='url(#'+s.blur+')';
    const path=mk('path',attrs,host);
    
    
  });
  p.wires.forEach(w=>{
    const path=mk('path',{d:smoothPath(toPts(w),false),fill:'none',stroke:p.wire,'stroke-width':p.wireW,'stroke-opacity':.85},surf);
    
    
  });
});
</script>
</body>
</html>
